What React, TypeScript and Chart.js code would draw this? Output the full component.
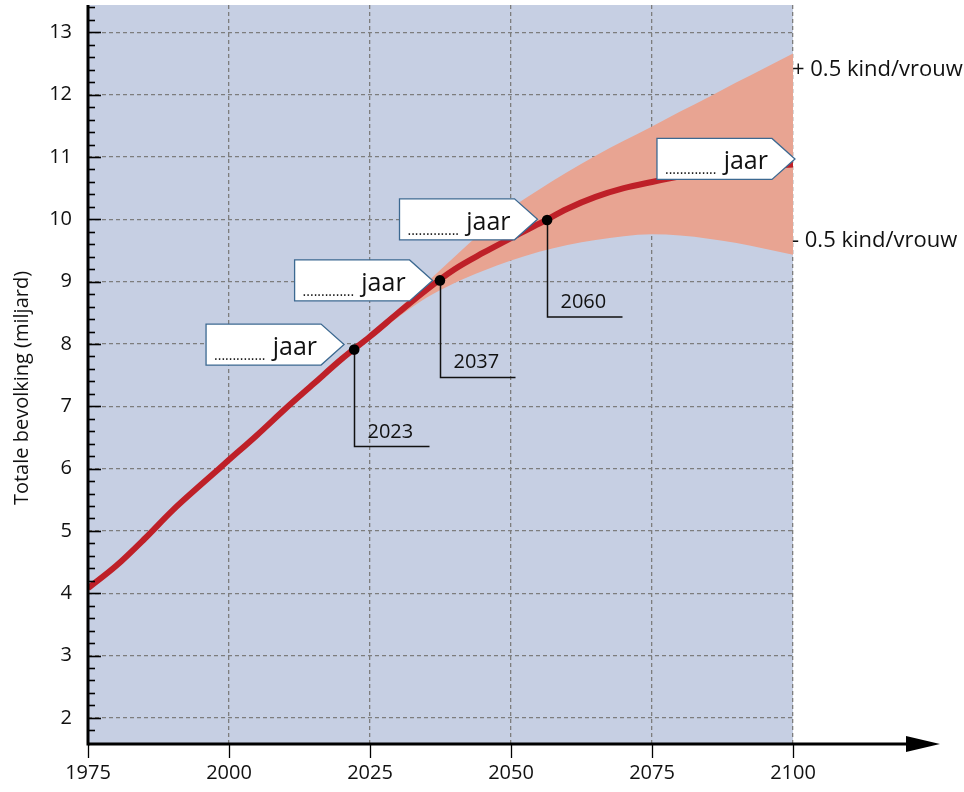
import React, { useEffect, useRef } from "react";
import { Chart, registerables } from "chart.js";

Chart.register(...registerables);

// ---- data ----
const years = [1975, 1980, 1985, 1990, 1995, 2000, 2005, 2010, 2015, 2020, 2025, 2030, 2035, 2040, 2045, 2050, 2055, 2060, 2065, 2070, 2075, 2080, 2085, 2090, 2095, 2100];
const population = [4.08, 4.44, 4.87, 5.33, 5.74, 6.14, 6.54, 6.96, 7.36, 7.76, 8.12, 8.5, 8.87, 9.2, 9.46, 9.7, 9.93, 10.17, 10.36, 10.5, 10.6, 10.69, 10.76, 10.82, 10.86, 10.88];

const bandYears = [2022, 2025, 2030, 2035, 2040, 2045, 2050, 2055, 2060, 2065, 2070, 2075, 2080, 2085, 2090, 2095, 2100];
const bandUpper = [7.95, 8.16, 8.56, 8.98, 9.4, 9.81, 10.18, 10.48, 10.76, 11.02, 11.26, 11.49, 11.73, 11.96, 12.2, 12.43, 12.66];
const bandLower = [7.89, 8.08, 8.43, 8.74, 8.98, 9.17, 9.34, 9.48, 9.59, 9.67, 9.73, 9.76, 9.74, 9.69, 9.62, 9.53, 9.43];

const dotYears = [2022.2, 2037.4, 2056.4];
const dotValues = [7.91, 9.02, 9.99];
const dotLabels = ["2023", "2037", "2060"];

const boxYears = [2020.4, 2036.1, 2054.7, 2100.35];
const boxValues = [7.99, 9.02, 10.0, 10.97];
const boxDots = "..............";
const boxWord = "jaar";

const sideLabels = ["+ 0.5 kind/vrouw", "- 0.5 kind/vrouw"];
const sideLabelValues = [12.4, 9.66];
const sideLabelYear = 2100;

const xTickYears = [1975, 2000, 2025, 2050, 2075, 2100];
const yMin = 1.58;
const yMax = 13.44;
const yTitle = "Totale bevolking (miljard)";

// ---- style ----
const FONT = "'Open Sans', 'Noto Sans', sans-serif";
const BG = "rgb(198,207,227)";
const BAND = "rgb(232,164,146)";
const RED = "rgb(190,32,40)";
const GRID = "rgb(125,125,125)";
const BOX_BORDER = "rgb(60,105,145)";

const zeroPad = (s: any) => {
  s.paddingTop = 0;
  s.paddingBottom = 0;
  s.paddingLeft = 0;
  s.paddingRight = 0;
};

const decor = {
  id: "decor",
  beforeDraw(chart: any) {
    const { ctx, chartArea: a } = chart;
    ctx.save();
    ctx.fillStyle = BG;
    ctx.fillRect(a.left, a.top, a.right - a.left, a.bottom - a.top);
    ctx.restore();
  },
  afterDatasetsDraw(chart: any) {
    const { ctx } = chart;
    const xs = chart.scales.x;
    const ys = chart.scales.y;
    ctx.save();
    // leader lines + year labels
    ctx.strokeStyle = "#111";
    ctx.lineWidth = 1.5;
    ctx.fillStyle = "#111";
    ctx.font = `20px ${FONT}`;
    ctx.textAlign = "left";
    ctx.textBaseline = "alphabetic";
    dotYears.forEach((yr, i) => {
      const px = Math.round(xs.getPixelForValue(yr)) + 0.5;
      const py = ys.getPixelForValue(dotValues[i]);
      const bottom = py + 97;
      ctx.beginPath();
      ctx.moveTo(px, py);
      ctx.lineTo(px, bottom);
      ctx.lineTo(px + 75, bottom);
      ctx.stroke();
      ctx.fillText(dotLabels[i], px + 13, bottom - 9);
    });
    // dots
    dotYears.forEach((yr, i) => {
      const px = xs.getPixelForValue(yr);
      const py = ys.getPixelForValue(dotValues[i]);
      ctx.beginPath();
      ctx.arc(px, py, 5.3, 0, Math.PI * 2);
      ctx.fillStyle = "#000";
      ctx.fill();
    });
    // boxes
    boxYears.forEach((yr, i) => {
      const tx = xs.getPixelForValue(yr);
      const ty = ys.getPixelForValue(boxValues[i]);
      const h = 41;
      const flat = tx - 23;
      const left = flat - 115;
      const top = ty - h / 2;
      ctx.beginPath();
      ctx.moveTo(left, top);
      ctx.lineTo(flat, top);
      ctx.lineTo(tx, ty);
      ctx.lineTo(flat, top + h);
      ctx.lineTo(left, top + h);
      ctx.closePath();
      ctx.fillStyle = "#fff";
      ctx.fill();
      ctx.strokeStyle = BOX_BORDER;
      ctx.lineWidth = 1.3;
      ctx.stroke();
      ctx.fillStyle = "#111";
      ctx.textAlign = "right";
      ctx.font = `25px ${FONT}`;
      ctx.fillText(boxWord, flat - 4, top + 31);
      ctx.textAlign = "left";
      ctx.font = `14px ${FONT}`;
      ctx.fillText(boxDots, left + 8, top + 36);
    });
    ctx.restore();
  },
  afterDraw(chart: any) {
    const { ctx, chartArea: a } = chart;
    const xs = chart.scales.x;
    const ys = chart.scales.y;
    ctx.save();
    ctx.strokeStyle = "#000";
    // y ticks (major + minor, pointing inward)
    ctx.lineWidth = 1.6;
    for (let i = 9; i <= 67; i++) {
      const v = i * 0.2;
      if (v < yMin + 0.1 || v > yMax) continue;
      const py = Math.round(ys.getPixelForValue(v)) + 0.5;
      const major = i % 5 === 0;
      ctx.beginPath();
      ctx.moveTo(a.left, py);
      ctx.lineTo(a.left + (major ? 13 : 7), py);
      ctx.stroke();
    }
    // x ticks (outward)
    ctx.lineWidth = 1.3;
    xTickYears.forEach((yr) => {
      const px = Math.round(xs.getPixelForValue(yr)) + 0.5;
      ctx.beginPath();
      ctx.moveTo(px, a.bottom);
      ctx.lineTo(px, a.bottom + 14);
      ctx.stroke();
    });
    // y axis line
    ctx.lineWidth = 3;
    ctx.beginPath();
    ctx.moveTo(a.left, a.top);
    ctx.lineTo(a.left, a.bottom + 1.5);
    ctx.stroke();
    // x axis line with arrow
    ctx.beginPath();
    ctx.moveTo(a.left, a.bottom);
    ctx.lineTo(910, a.bottom);
    ctx.stroke();
    ctx.beginPath();
    ctx.moveTo(906, a.bottom - 8);
    ctx.lineTo(940, a.bottom);
    ctx.lineTo(906, a.bottom + 8);
    ctx.closePath();
    ctx.fillStyle = "#000";
    ctx.fill();
    // side labels
    ctx.fillStyle = "#111";
    ctx.font = `22px ${FONT}`;
    ctx.textAlign = "left";
    ctx.textBaseline = "middle";
    sideLabels.forEach((t, i) => {
      const px = xs.getPixelForValue(sideLabelYear);
      const py = ys.getPixelForValue(sideLabelValues[i]);
      ctx.fillText(t, px - 1, py);
    });
    // y title
    ctx.font = `20px ${FONT}`;
    ctx.textAlign = "center";
    ctx.textBaseline = "middle";
    ctx.translate(22, 388);
    ctx.rotate(-Math.PI / 2);
    ctx.fillText(yTitle, 0, 0);
    ctx.restore();
  },
};

export default function App() {
  const ref = useRef<HTMLCanvasElement | null>(null);
  useEffect(() => {
    document.body.style.margin = "0";
    const canvas = ref.current;
    if (!canvas) return;
    const chart = new Chart(canvas, {
      type: "line",
      data: {
        datasets: [
          {
            data: years.map((x, i) => ({ x, y: population[i] })),
            borderColor: RED,
            borderWidth: 6,
            pointRadius: 0,
            fill: false,
            cubicInterpolationMode: "monotone",
            borderCapStyle: "butt",
            order: 0,
          },
          {
            data: bandYears.map((x, i) => ({ x, y: bandUpper[i] })),
            borderWidth: 0,
            borderColor: "rgba(0,0,0,0)",
            backgroundColor: BAND,
            pointRadius: 0,
            fill: "+1",
            cubicInterpolationMode: "monotone",
            order: 2,
          },
          {
            data: bandYears.map((x, i) => ({ x, y: bandLower[i] })),
            borderWidth: 0,
            borderColor: "rgba(0,0,0,0)",
            backgroundColor: BAND,
            pointRadius: 0,
            fill: false,
            cubicInterpolationMode: "monotone",
            order: 3,
          },
        ],
      },
      options: {
        responsive: false,
        animation: false,
        events: [],
        layout: { padding: { top: 5, right: 171, left: 0, bottom: 0 } },
        plugins: { legend: { display: false }, tooltip: { enabled: false }, title: { display: false } },
        scales: {
          x: {
            type: "linear",
            min: 1975,
            max: 2100,
            afterFit: (s: any) => { s.height = 48; zeroPad(s); },
            afterBuildTicks: (s: any) => { s.ticks = xTickYears.map((v) => ({ value: v })); },
            ticks: {
              callback: (v: any) => String(v),
              font: { family: FONT, size: 20 },
              color: "#111",
              padding: 17,
              maxRotation: 0,
            },
            grid: { color: GRID, lineWidth: 1.3, drawTicks: false },
            border: { display: false, dash: [4, 3] },
          },
          y: {
            type: "linear",
            min: yMin,
            max: yMax,
            afterFit: (s: any) => { s.width = 88; zeroPad(s); },
            ticks: {
              stepSize: 1,
              includeBounds: false,
              callback: (v: any) => String(v),
              font: { family: FONT, size: 20 },
              color: "#111",
              padding: 16,
            },
            grid: { color: GRID, lineWidth: 1.3, drawTicks: false },
            border: { display: false, dash: [4, 3] },
          },
        },
      },
      plugins: [decor],
    });
    return () => chart.destroy();
  }, []);
  return (
    <div style={{ width: 964, height: 792 }}>
      <canvas ref={ref} width={964} height={792} style={{ display: "block" }} />
    </div>
  );
}
